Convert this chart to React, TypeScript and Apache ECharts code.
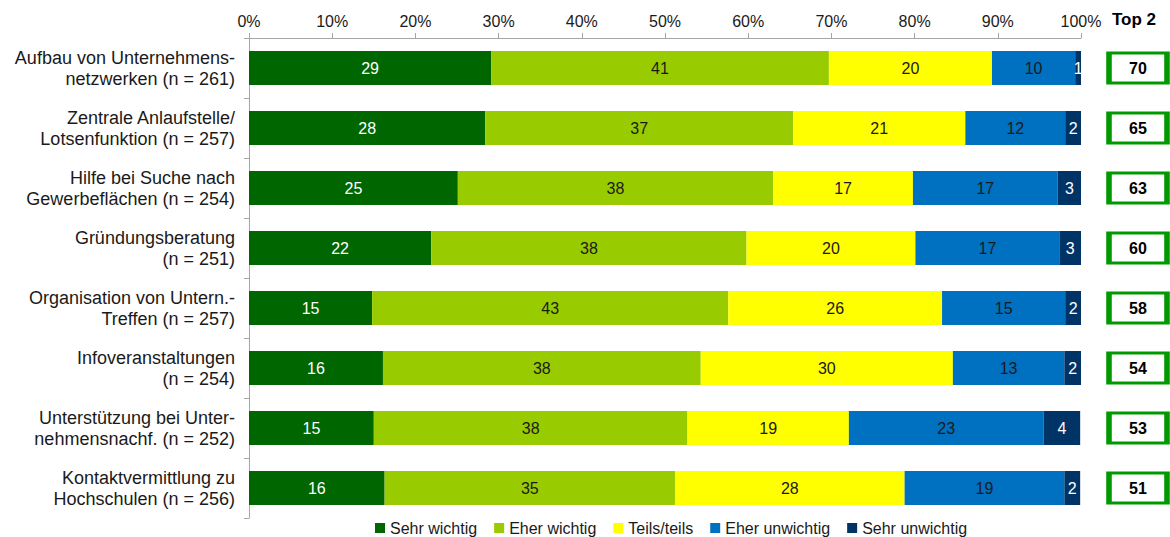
import React, { useEffect, useRef } from "react";
import * as echarts from "echarts";

const categories = [
  "Aufbau von Unternehmens-\nnetzwerken (n = 261)",
  "Zentrale Anlaufstelle/\nLotsenfunktion (n = 257)",
  "Hilfe bei Suche nach\nGewerbeflächen (n = 254)",
  "Gründungsberatung\n(n = 251)",
  "Organisation von Untern.-\nTreffen (n = 257)",
  "Infoveranstaltungen\n(n = 254)",
  "Unterstützung bei Unter-\nnehmensnachf. (n = 252)",
  "Kontaktvermittlung zu\nHochschulen (n = 256)",
];

const seriesNames = ["Sehr wichtig", "Eher wichtig", "Teils/teils", "Eher unwichtig", "Sehr unwichtig"];
const sehrWichtig = [29.1, 28.4, 25.1, 21.9, 14.8, 16.1, 15.0, 16.3];
const eherWichtig = [40.6, 37.0, 37.9, 37.9, 42.8, 38.2, 37.7, 34.9];
const teilsTeils = [19.6, 20.7, 16.8, 20.3, 25.7, 30.3, 19.4, 27.6];
const eherUnwichtig = [10.0, 12.0, 17.4, 17.3, 14.8, 13.4, 23.4, 19.2];
const sehrUnwichtig = [0.7, 1.9, 2.8, 2.6, 1.9, 2.0, 4.4, 1.9];
const top2 = [70, 65, 63, 60, 58, 54, 53, 51];
const xTicks = [0, 10, 20, 30, 40, 50, 60, 70, 80, 90, 100];

const colors = ["#006600", "#99CC00", "#FFFF00", "#0070C0", "#003366"];
const labelColors = ["#ffffff", "#1a1a1a", "#1a1a1a", "#1a1a1a", "#ffffff"];
const FONT = "'Liberation Sans', Arial, sans-serif";

export default function App() {
  const ref = useRef<HTMLDivElement>(null);
  useEffect(() => {
    if (!ref.current) return;
    const chart = echarts.init(ref.current, null, { renderer: "svg" });
    const values = [sehrWichtig, eherWichtig, teilsTeils, eherUnwichtig, sehrUnwichtig];
    const barSeries = values.map((vals, k) => ({
      name: seriesNames[k],
      type: "bar",
      stack: "total",
      xAxisIndex: 0,
      yAxisIndex: 0,
      barWidth: 34,
      data: vals,
      itemStyle: { color: colors[k] },
      label: {
        show: true,
        position: "inside",
        color: labelColors[k],
        fontSize: 16,
        fontFamily: FONT,
        formatter: (p: any) => String(Math.round(p.value)),
      },
    }));
    chart.setOption({
      animation: false,
      textStyle: { fontFamily: FONT },
      legend: {
        bottom: 1,
        left: 375,
        padding: 0,
        itemWidth: 10,
        itemHeight: 10,
        itemGap: 17,
        icon: "rect",
        data: seriesNames,
        textStyle: { fontSize: 16, color: "#1a1a1a", fontFamily: FONT },
      },
      grid: [
        { left: 249, width: 832, top: 38, height: 480 },
        { left: 1107, width: 62, top: 38, height: 480 },
      ],
      xAxis: [
        {
          type: "value",
          gridIndex: 0,
          position: "top",
          min: 0,
          max: 100,
          interval: 10,
          axisLine: { show: true, lineStyle: { color: "#A6A6A6" } },
          axisTick: { show: true, length: 5, lineStyle: { color: "#A6A6A6" } },
          splitLine: { show: false },
          axisLabel: {
            fontSize: 16,
            color: "#1a1a1a",
            margin: 9,
            fontFamily: FONT,
            formatter: (v: number) => (xTicks.includes(v) ? v + "%" : ""),
          },
        },
        {
          type: "value",
          gridIndex: 1,
          min: -1,
          max: 1,
          show: false,
        },
      ],
      yAxis: [
        {
          type: "category",
          gridIndex: 0,
          inverse: true,
          data: categories,
          axisLine: { show: true, lineStyle: { color: "#A6A6A6" } },
          axisTick: { show: true, length: 5, lineStyle: { color: "#A6A6A6" } },
          axisLabel: {
            fontSize: 18,
            lineHeight: 21,
            color: "#1a1a1a",
            margin: 14,
            align: "right",
            fontFamily: FONT,
          },
        },
        {
          type: "category",
          gridIndex: 1,
          inverse: true,
          data: categories,
          show: false,
        },
      ],
      series: [
        ...barSeries,
        {
          type: "scatter",
          xAxisIndex: 1,
          yAxisIndex: 1,
          symbol: "rect",
          symbolSize: [58, 30],
          data: top2.map((v, i) => [0, i, v]),
          itemStyle: { color: "#ffffff", borderColor: "#009900", borderWidth: 4, opacity: 1 },
          label: {
            show: true,
            position: "inside",
            color: "#000",
            fontSize: 16,
            fontWeight: "bold",
            fontFamily: FONT,
            formatter: (p: any) => String(p.value[2]),
          },
          silent: true,
        },
      ],
      graphic: [
        {
          type: "text",
          left: 1112,
          top: 11,
          style: { text: "Top 2", fontSize: 17, fontWeight: "bold", fill: "#000", fontFamily: FONT },
        },
      ],
    });
    return () => chart.dispose();
  }, []);
  return (
    <div
      ref={ref}
      style={{ position: "fixed", left: 0, top: 0, width: 1170, height: 537, background: "#fff" }}
    />
  );
}
